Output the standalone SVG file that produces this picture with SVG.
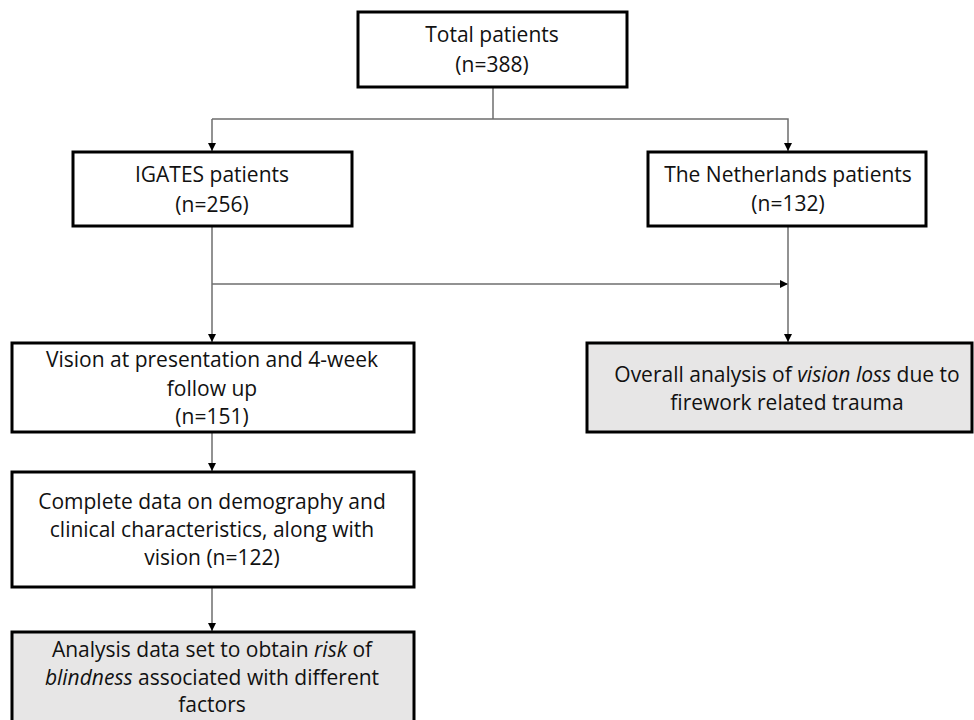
<svg xmlns="http://www.w3.org/2000/svg" width="974" height="720" viewBox="0 0 974 720">
<defs>
<style>
.box{fill:#ffffff;stroke:#000000;stroke-width:3}
.grey{fill:#e7e6e6;stroke:#000000;stroke-width:3}
.t{font-family:"Open Sans","Liberation Sans",sans-serif;font-size:21px;fill:#111111;text-anchor:middle}
.c{fill:none;stroke:#6e6e6e;stroke-width:1.5}
</style>
<marker id="ah" viewBox="0 0 10 10" refX="10" refY="5" markerWidth="8" markerHeight="8" markerUnits="userSpaceOnUse" orient="auto">
<path d="M0,0 L10,5 L0,10 Z" fill="#000000"/>
</marker>
</defs>
<rect width="974" height="720" fill="#ffffff"/>
<g id="connectors">
<line class="c" x1="493" y1="88" x2="493" y2="119"/>
<polyline class="c" points="212,119 788,119 788,151" marker-end="url(#ah)"/>
<line class="c" x1="212" y1="119" x2="212" y2="151" marker-end="url(#ah)"/>
<line class="c" x1="212" y1="227" x2="212" y2="342" marker-end="url(#ah)"/>
<line class="c" x1="212" y1="284" x2="788" y2="284" marker-end="url(#ah)"/>
<line class="c" x1="788" y1="227" x2="788" y2="342" marker-end="url(#ah)"/>
<line class="c" x1="212" y1="433" x2="212" y2="471" marker-end="url(#ah)"/>
<line class="c" x1="212" y1="588" x2="212" y2="631" marker-end="url(#ah)"/>
</g>
<g id="total">
<rect class="box" x="358" y="12" width="269" height="75"/>
<text class="t" x="492" y="42">Total patients</text>
<text class="t" x="492" y="72">(n=388)</text>
</g>
<g id="igates">
<rect class="box" x="73" y="152" width="279" height="74"/>
<text class="t" x="212" y="182">IGATES patients</text>
<text class="t" x="212" y="212">(n=256)</text>
</g>
<g id="netherlands">
<rect class="box" x="648" y="152" width="278" height="74"/>
<text class="t" x="788" y="182">The Netherlands patients</text>
<text class="t" x="788" y="211">(n=132)</text>
</g>
<g id="overall">
<rect class="grey" x="587" y="343" width="385" height="89"/>
<text class="t" x="787" y="382">Overall analysis of <tspan font-style="italic">vision loss</tspan> due to</text>
<text class="t" x="787" y="410">firework related trauma</text>
</g>
<g id="vision">
<rect class="box" x="12" y="343" width="402" height="89"/>
<text class="t" x="212" y="367">Vision at presentation and 4-week</text>
<text class="t" x="212" y="396">follow up</text>
<text class="t" x="212" y="424">(n=151)</text>
</g>
<g id="complete">
<rect class="box" x="12" y="472" width="402" height="115"/>
<text class="t" x="212" y="509">Complete data on demography and</text>
<text class="t" x="212" y="537">clinical characteristics, along with</text>
<text class="t" x="212" y="565">vision (n=122)</text>
</g>
<g id="analysis">
<rect class="grey" x="12" y="632" width="402" height="100"/>
<text class="t" x="212" y="657">Analysis data set to obtain <tspan font-style="italic">risk</tspan> of</text>
<text class="t" x="212" y="685"><tspan font-style="italic">blindness</tspan> associated with different</text>
<text class="t" x="212" y="712">factors</text>
</g>
</svg>
